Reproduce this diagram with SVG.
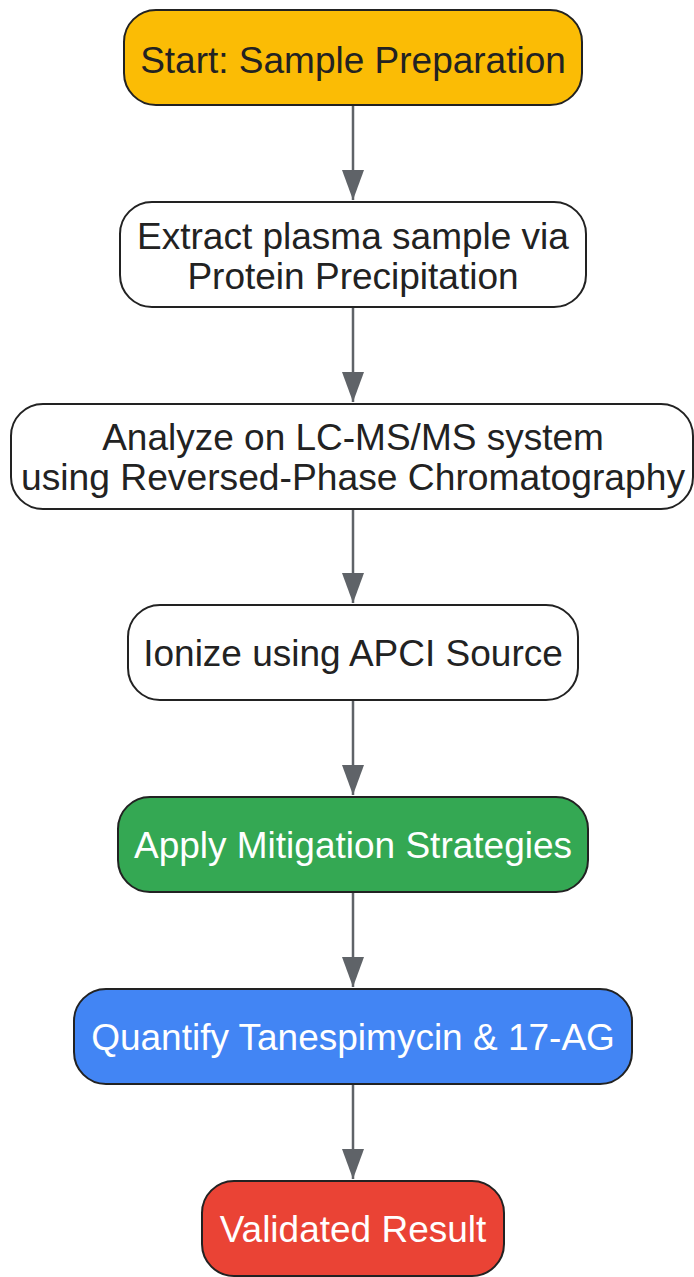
<svg xmlns="http://www.w3.org/2000/svg" width="694" height="1277" viewBox="0 0 694 1277">
<style>
.n{stroke:#222;stroke-width:2}
.t{font-family:"Liberation Sans",Arial,sans-serif;font-size:37px;text-anchor:middle;fill:#222}
.w{fill:#fff}
.c{stroke:#5f6368;stroke-width:2.5;fill:none;marker-end:url(#ah)}
</style>
<defs>
<marker id="ah" markerWidth="30" markerHeight="22" refX="30" refY="11" orient="auto" markerUnits="userSpaceOnUse" viewBox="0 0 30 22">
<path d="M0,0 L30,11 L0,22 Z" fill="#5f6368"/>
</marker>
</defs>
<rect width="694" height="1277" fill="#fff"/>
<g id="connectors">
<line class="c" x1="353" y1="105" x2="353" y2="200"/>
<line class="c" x1="353" y1="307" x2="353" y2="402"/>
<line class="c" x1="353" y1="509" x2="353" y2="603"/>
<line class="c" x1="353" y1="700" x2="353" y2="795"/>
<line class="c" x1="353" y1="892" x2="353" y2="987"/>
<line class="c" x1="353" y1="1084" x2="353" y2="1179"/>
</g>
<g id="n1"><rect class="n" x="124" y="10" width="458" height="95" rx="32" fill="#FBBC05"/><text class="t" x="353" y="73">Start: Sample Preparation</text></g>
<g id="n2"><rect class="n" x="120" y="202" width="466" height="105" rx="32" fill="#fff"/><text class="t" x="353" y="249">Extract plasma sample via</text><text class="t" x="353" y="289">Protein Precipitation</text></g>
<g id="n3"><rect class="n" x="11" y="404" width="682" height="105" rx="32" fill="#fff"/><text class="t" x="353" y="450">Analyze on LC-MS/MS system</text><text class="t" x="353" y="490" textLength="664" lengthAdjust="spacingAndGlyphs">using Reversed-Phase Chromatography</text></g>
<g id="n4"><rect class="n" x="128" y="605" width="450" height="95" rx="32" fill="#fff"/><text class="t" x="353" y="666">Ionize using APCI Source</text></g>
<g id="n5"><rect class="n" x="118" y="797" width="470" height="95" rx="32" fill="#34A853"/><text class="t w" x="353" y="858">Apply Mitigation Strategies</text></g>
<g id="n6"><rect class="n" x="74" y="989" width="558" height="95" rx="32" fill="#4285F4"/><text class="t w" x="353" y="1050">Quantify Tanespimycin &amp; 17-AG</text></g>
<g id="n7"><rect class="n" x="202" y="1181" width="302" height="95" rx="32" fill="#EA4335"/><text class="t w" x="353" y="1242">Validated Result</text></g>
</svg>
